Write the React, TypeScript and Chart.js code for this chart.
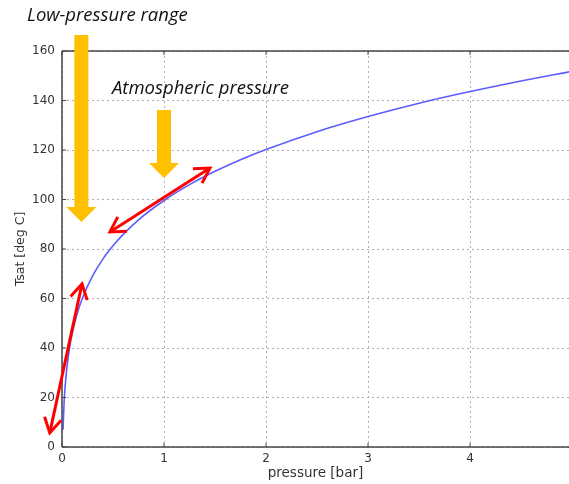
import React, { useEffect, useRef } from 'react';
import { Chart, registerables } from 'chart.js';

Chart.register(...registerables);

// Saturation curve of water (pressure in bar, Tsat in deg C)
const pressureBar = [0.01, 0.02, 0.03, 0.05, 0.075, 0.1, 0.15, 0.2, 0.3, 0.4, 0.5, 0.6, 0.75, 1.0, 1.25, 1.5, 1.75, 2.0, 2.5, 3.0, 3.5, 4.0, 4.5, 5.0];
const tsatDegC = [7.0, 17.5, 24.1, 32.9, 40.3, 45.8, 54.0, 60.1, 69.1, 75.9, 81.3, 85.9, 91.8, 99.6, 106.0, 111.4, 116.1, 120.2, 127.4, 133.5, 138.9, 143.6, 147.9, 151.8];

const xTicks = [0, 1, 2, 3, 4];
const yTicks = [0, 20, 40, 60, 80, 100, 120, 140, 160];

// Annotations in data units
const yellowArrowX = [0.19, 1.0];
const yellowArrowTop = [166.5, 136.2];
const yellowArrowNeck = [97.0, 114.7];
const yellowArrowTip = [90.9, 108.7];

const redArrowStart = [[-0.12, 5.7], [0.47, 86.9]];
const redArrowEnd = [[0.196, 65.9], [1.45, 112.7]];

const noteTexts = ['Low-pressure range', 'Atmospheric pressure'];
const noteX = [-0.343, 0.49];
const noteY = [174.1, 144.6];

const overlay = {
  id: 'overlay',
  afterDatasetsDraw(chart: any) {
    const { ctx, chartArea: a, scales } = chart;
    const x = scales.x;
    const y = scales.y;
    ctx.save();
    ctx.setLineDash([]);
    const seg = (x1: number, y1: number, x2: number, y2: number) => {
      ctx.beginPath();
      ctx.moveTo(x1, y1);
      ctx.lineTo(x2, y2);
      ctx.stroke();
    };
    // frame (left, bottom, top)
    ctx.strokeStyle = '#444';
    ctx.lineWidth = 1.5;
    seg(a.left, a.top, a.right, a.top);
    seg(a.left, a.top, a.left, a.bottom);
    seg(a.left, a.bottom, a.right, a.bottom);
    // inward ticks
    ctx.lineWidth = 1;
    for (const v of xTicks) {
      const px = x.getPixelForValue(v);
      seg(px, a.bottom, px, a.bottom - 4);
      seg(px, a.top, px, a.top + 4);
    }
    for (const v of yTicks) {
      const py = y.getPixelForValue(v);
      seg(a.left, py, a.left + 4, py);
    }
    // yellow block arrows
    ctx.fillStyle = '#FFC000';
    for (let i = 0; i < yellowArrowX.length; i++) {
      const cx = x.getPixelForValue(yellowArrowX[i]);
      const top = y.getPixelForValue(yellowArrowTop[i]);
      const neck = y.getPixelForValue(yellowArrowNeck[i]);
      const tip = y.getPixelForValue(yellowArrowTip[i]);
      ctx.beginPath();
      ctx.moveTo(cx - 7, top);
      ctx.lineTo(cx + 7, top);
      ctx.lineTo(cx + 7, neck);
      ctx.lineTo(cx + 15, neck);
      ctx.lineTo(cx, tip);
      ctx.lineTo(cx - 15, neck);
      ctx.lineTo(cx - 7, neck);
      ctx.closePath();
      ctx.fill();
    }
    // red double arrows
    ctx.strokeStyle = '#ff0000';
    ctx.lineWidth = 3;
    ctx.lineJoin = 'miter';
    const head = (tx: number, ty: number, fx: number, fy: number) => {
      const ang = Math.atan2(ty - fy, tx - fx);
      const L = 17;
      const h = (30 * Math.PI) / 180;
      ctx.beginPath();
      ctx.moveTo(tx - L * Math.cos(ang - h), ty - L * Math.sin(ang - h));
      ctx.lineTo(tx, ty);
      ctx.lineTo(tx - L * Math.cos(ang + h), ty - L * Math.sin(ang + h));
      ctx.stroke();
    };
    for (let i = 0; i < redArrowStart.length; i++) {
      const x1 = x.getPixelForValue(redArrowStart[i][0]);
      const y1 = y.getPixelForValue(redArrowStart[i][1]);
      const x2 = x.getPixelForValue(redArrowEnd[i][0]);
      const y2 = y.getPixelForValue(redArrowEnd[i][1]);
      seg(x1, y1, x2, y2);
      head(x1, y1, x2, y2);
      head(x2, y2, x1, y1);
    }
    // notes
    ctx.fillStyle = '#111';
    ctx.font = 'italic 18.5px "Open Sans"';
    ctx.textBaseline = 'middle';
    ctx.textAlign = 'left';
    for (let i = 0; i < noteTexts.length; i++) {
      ctx.fillText(noteTexts[i], x.getPixelForValue(noteX[i]), y.getPixelForValue(noteY[i]));
    }
    ctx.restore();
  },
};

export default function App() {
  const ref = useRef<HTMLCanvasElement>(null);
  useEffect(() => {
    if (!ref.current) return;
    const chart = new Chart(ref.current, {
      type: 'line',
      data: {
        datasets: [
          {
            data: pressureBar.map((p, i) => ({ x: p, y: tsatDegC[i] })),
            borderColor: '#5c5cff',
            borderWidth: 1.6,
            pointRadius: 0,
            cubicInterpolationMode: 'monotone',
            fill: false,
          },
        ],
      },
      options: {
        responsive: false,
        animation: false,
        layout: { padding: { top: 51, right: 0, left: 0, bottom: 0 } },
        plugins: { legend: { display: false }, tooltip: { enabled: false } },
        scales: {
          x: {
            type: 'linear',
            min: 0,
            max: 4.97,
            afterBuildTicks: (s: any) => {
              s.ticks = xTicks.map((v) => ({ value: v }));
            },
            afterFit: (s: any) => {
              s.height = 37;
            },
            grid: { color: '#b0b0b0', lineWidth: 1, drawTicks: false },
            border: { display: false, dash: [2, 3] },
            ticks: {
              padding: 5,
              color: '#333',
              font: { family: 'DejaVu Sans', size: 12 },
              maxRotation: 0,
            },
            title: {
              display: true,
              text: 'pressure [bar]',
              color: '#333',
              font: { family: 'DejaVu Sans', size: 13.5 },
              padding: { top: 0, bottom: 2 },
            },
          },
          y: {
            type: 'linear',
            min: 0,
            max: 160,
            afterBuildTicks: (s: any) => {
              s.ticks = yTicks.map((v) => ({ value: v }));
            },
            afterFit: (s: any) => {
              s.width = 62;
            },
            grid: { color: '#b0b0b0', lineWidth: 1, drawTicks: false },
            border: { display: false, dash: [2, 3] },
            ticks: {
              padding: 7,
              color: '#333',
              font: { family: 'DejaVu Sans', size: 12 },
            },
            title: {
              display: true,
              text: 'Tsat [deg C]',
              color: '#333',
              font: { family: 'DejaVu Sans', size: 12.5 },
              padding: { top: 13, bottom: 0 },
            },
          },
        },
      },
      plugins: [overlay],
    } as any);
    return () => chart.destroy();
  }, []);
  return (
    <div style={{ position: 'absolute', left: 0, top: 0, width: 569, height: 484, background: '#fff' }}>
      <canvas ref={ref} width={569} height={484} />
    </div>
  );
}
